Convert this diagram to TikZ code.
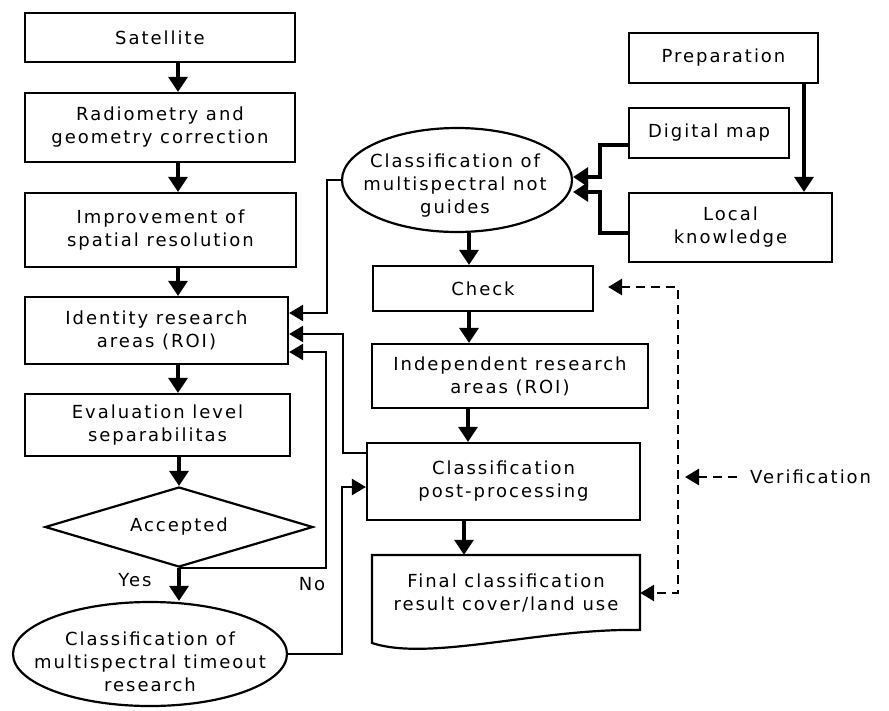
\documentclass[tikz,border=0pt]{standalone}
\usepackage{fontspec}
\setmainfont{DejaVu Sans}[LetterSpace=11]
\usetikzlibrary{shapes.geometric,arrows.meta,calc}
\begin{document}
\begin{tikzpicture}[x=1pt,y=-1pt,
  every node/.style={font=\fontsize{18}{23}\selectfont, align=center, inner sep=0pt},
  box/.style={draw, line width=2.2pt},
  oval/.style={draw, ellipse, line width=2.2pt},
  arr/.style={line width=3.2pt, -{Triangle[width=19pt,length=15pt]}},
  link/.style={line width=2.4pt, -{Triangle[width=16pt,length=14pt]}},
  dsh/.style={line width=2.8pt, dash pattern=on 9pt off 6pt},
]
\useasboundingbox (0,0) rectangle (889,710);
% left column
\node[box, minimum width=270, minimum height=49] (sat) at (160,37.5) {Satellite};
\node[box, minimum width=270, minimum height=69] (rad) at (160,127.5) {Radiometry and\\geometry correction};
\node[box, minimum width=271, minimum height=74] (imp) at (160.5,230) {Improvement of\\spatial resolution};
\node[box, minimum width=263, minimum height=67] (ident) at (156.5,330.5) {Identity research\\areas (ROI)};
\node[box, minimum width=265, minimum height=62] (eval) at (157.5,425) {Evaluation level\\separabilitas};
\node[draw, diamond, aspect=3.35, line width=2.2pt, minimum width=268, minimum height=80] (acc) at (179,527) {Accepted};
\node[oval, minimum width=274, minimum height=104] (tout) at (150,654) {};
\node (touttext) at (150,662) {Classification of\\multispectral timeout\\research};
\node (yes) at (135,580) {Yes};
\node (no) at (312,584) {No};
% right part
\node[oval, minimum width=230, minimum height=104] (ng) at (457,180) {};
\node (ngtext) at (455,186) {Classification of\\multispectral not\\guides};
\node[box, minimum width=189, minimum height=50] (prep) at (723.5,58) {Preparation};
\node[box, minimum width=160, minimum height=50] (dmap) at (709,133) {Digital map};
\node[box, minimum width=203, minimum height=69] (local) at (730.5,227.5) {Local\\knowledge};
\node[box, minimum width=220, minimum height=45] (check) at (483,288.5) {Check};
\node[box, minimum width=276, minimum height=64] (indep) at (510,376) {Independent research\\areas (ROI)};
\node[box, minimum width=273, minimum height=77] (post) at (503.5,481.5) {Classification\\post-processing};
\node[minimum width=268, minimum height=76] (fin) at (506,593) {Final classification\\result cover/land use};
\draw[line width=2.2pt, line join=miter] (372,643) -- (372,555) -- (640,555) -- (640,630)
  .. controls (540,628) and (430,662) .. (372,643) -- cycle;
\node[anchor=west] (verif) at (750,477) {Verification};
% helper coordinates
\coordinate (ax) at (178,0);
\coordinate (Y313) at (0,313);
\coordinate (Y334) at (0,334);
\coordinate (Y352) at (0,352);
\coordinate (Y453) at (0,453);
\coordinate (Y487) at (0,487);
\coordinate (Y145) at (0,145);
\coordinate (Y233) at (0,233);
\coordinate (Y177) at (0,177);
\coordinate (Y192) at (0,192);
\coordinate (X804) at (804,0);
\coordinate (X469) at (469,0);
\coordinate (X468) at (468,0);
\coordinate (X464) at (464,0);
\coordinate (noc) at (326,352);
\coordinate (ngc) at (327,313);
\coordinate (pc1) at (343,453);
\coordinate (pc2) at (343,334);
\coordinate (tc) at (342,487);
\coordinate (dc1) at (600,145);
\coordinate (dc2) at (600,177);
\coordinate (lc1) at (600,233);
\coordinate (lc2) at (600,192);
\coordinate (vc1) at (678,287);
\coordinate (vc2) at (678,593);
\coordinate (vtip) at (685,477);
% left column arrows
\draw[arr] (sat.south -| ax) -- (rad.north -| ax);
\draw[arr] (rad.south -| ax) -- (imp.north -| ax);
\draw[arr] (imp.south -| ax) -- (ident.north -| ax);
\draw[arr] (ident.south -| ax) -- (eval.north -| ax);
\draw[arr] (eval.south -| acc.north) -- (acc.north);
\draw[arr] (acc.south) -- (acc.south |- tout.north);
% feedback into Identity
\draw[link] (acc.south) -| (noc) -- (ident.east |- Y352);
\draw[link] (ng.west) -| (ngc) -- (ident.east |- Y313);
\draw[link] (post.west |- Y453) -- (pc1) -- (pc2) -- (ident.east |- Y334);
\draw[link] (tout.east) -| (tc) -- (post.west |- Y487);
% inputs to ng
\draw[arr] (dmap.west |- Y145) -- (dc1) -- (dc2) -- (ng.east |- Y177);
\draw[arr] (local.west |- Y233) -- (lc1) -- (lc2) -- (ng.east |- Y192);
\draw[arr] (prep.south -| X804) -- (local.north -| X804);
% center column
\draw[arr] (ng.south -| X469) -- (check.north -| X469);
\draw[arr] (check.south -| X469) -- (indep.north -| X469);
\draw[arr] (indep.south -| X468) -- (post.north -| X468);
\draw[arr] (post.south -| X464) -- (fin.north -| X464);
% verification
\draw[dsh, {Triangle[width=16pt,length=14pt]}-{Triangle[width=16pt,length=14pt]}]
  ($(check.east)+(14,-1.5)$) -- (vc1) -- (vc2) -- (fin.east);
\draw[dsh, -{Triangle[width=16pt,length=14pt]}] ($(verif.west)+(-13,0)$) -- (vtip);
\end{tikzpicture}
\end{document}
